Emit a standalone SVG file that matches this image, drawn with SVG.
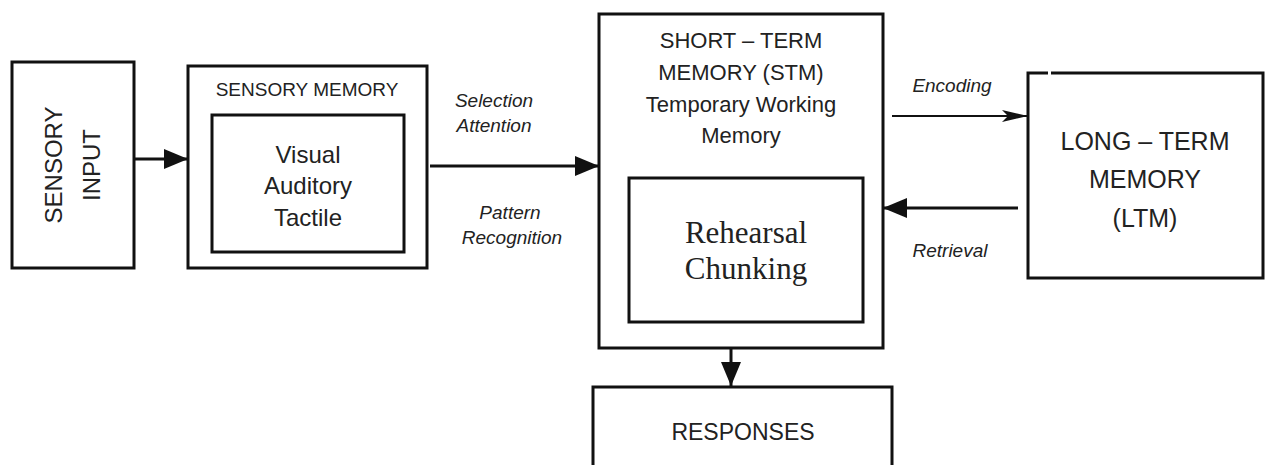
<svg xmlns="http://www.w3.org/2000/svg" width="1265" height="465" viewBox="0 0 1265 465">
<style>
.box{fill:#fff;stroke:#111;stroke-width:3}
.sans{font-family:"Liberation Sans",Arial,sans-serif;fill:#222}
.serif{font-family:"Liberation Serif","Times New Roman",serif;fill:#222}
.lbl{font-family:"Liberation Sans",Arial,sans-serif;font-style:italic;font-size:19px;fill:#222}
.ln{stroke:#111;stroke-width:3;fill:none}
.thin{stroke:#111;stroke-width:2;fill:none}
</style>
<defs>
<marker id="ah" markerUnits="userSpaceOnUse" viewBox="0 0 24 20" refX="24" refY="10" markerWidth="24" markerHeight="20" orient="auto">
<path d="M0,0 L24,10 L0,20 z" fill="#111"/>
</marker>
<marker id="ahs" markerUnits="userSpaceOnUse" viewBox="0 0 26 14" refX="26" refY="7" markerWidth="26" markerHeight="14" orient="auto">
<path d="M0,1 L26,7 L0,13 L6,7 z" fill="#111"/>
</marker>
</defs>
<rect width="1265" height="465" fill="#fff"/>
<g id="sensory-input">
<rect class="box" x="12" y="62" width="122" height="206"/>
<text class="sans" font-size="24" text-anchor="middle" transform="translate(62,165) rotate(-90)">SENSORY</text>
<text class="sans" font-size="24" text-anchor="middle" transform="translate(100,165) rotate(-90)">INPUT</text>
</g>
<g id="sensory-memory">
<rect class="box" x="188" y="66" width="239" height="202"/>
<text class="sans" font-size="19" text-anchor="middle" x="307" y="96">SENSORY MEMORY</text>
<rect class="box" x="212" y="115" width="192" height="137"/>
<text class="sans" font-size="24" text-anchor="middle" x="308" y="163">Visual</text>
<text class="sans" font-size="24" text-anchor="middle" x="308" y="194">Auditory</text>
<text class="sans" font-size="24" text-anchor="middle" x="308" y="226">Tactile</text>
</g>
<g id="stm">
<rect class="box" x="599" y="14" width="284" height="334"/>
<text class="sans" font-size="22" text-anchor="middle" x="741" y="48">SHORT – TERM</text>
<text class="sans" font-size="22" text-anchor="middle" x="741" y="80">MEMORY (STM)</text>
<text class="sans" font-size="22" text-anchor="middle" x="741" y="112">Temporary Working</text>
<text class="sans" font-size="22" text-anchor="middle" x="741" y="143">Memory</text>
<rect class="box" x="629" y="178" width="234" height="144"/>
<text class="serif" font-size="31" text-anchor="middle" x="746" y="243">Rehearsal</text>
<text class="serif" font-size="31" text-anchor="middle" x="746" y="279">Chunking</text>
</g>
<g id="ltm">
<rect class="box" x="1028" y="73" width="235" height="205"/>
<rect x="1048" y="70" width="3" height="6" fill="#fff"/>
<text class="sans" font-size="25" text-anchor="middle" x="1145" y="150">LONG – TERM</text>
<text class="sans" font-size="25" text-anchor="middle" x="1145" y="188">MEMORY</text>
<text class="sans" font-size="25" text-anchor="middle" x="1145" y="227">(LTM)</text>
</g>
<g id="responses">
<rect class="box" x="593" y="387" width="299" height="90"/>
<text class="sans" font-size="23" text-anchor="middle" x="743" y="440">RESPONSES</text>
</g>
<g id="connectors">
<line class="ln" x1="134" y1="159" x2="188" y2="159" marker-end="url(#ah)"/>
<line class="ln" x1="430" y1="166" x2="599" y2="166" marker-end="url(#ah)"/>
<line class="thin" x1="892" y1="116" x2="1028" y2="116" marker-end="url(#ahs)"/>
<line class="ln" x1="1018" y1="208" x2="883" y2="208" marker-end="url(#ah)"/>
<line class="ln" x1="731" y1="348" x2="731" y2="386" marker-end="url(#ah)"/>
<text class="lbl" x="494" y="107" text-anchor="middle">Selection</text>
<text class="lbl" x="494" y="132" text-anchor="middle">Attention</text>
<text class="lbl" x="510" y="219" text-anchor="middle">Pattern</text>
<text class="lbl" x="512" y="244" text-anchor="middle">Recognition</text>
<text class="lbl" x="952" y="92" text-anchor="middle">Encoding</text>
<text class="lbl" x="950" y="257" text-anchor="middle">Retrieval</text>
</g>
</svg>
